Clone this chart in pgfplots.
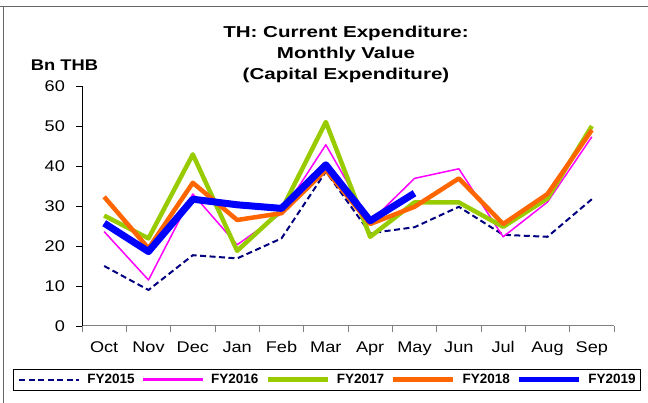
\documentclass[border=0pt]{standalone}
\usepackage{fontspec}
\setmainfont{Liberation Sans}
\usepackage{pgfplots}
\usepackage{pgfplotstable}
\pgfplotsset{compat=1.18}

\definecolor{fyA}{RGB}{0,0,128}
\definecolor{fyB}{RGB}{255,0,255}
\definecolor{fyC}{RGB}{153,204,0}
\definecolor{fyD}{RGB}{255,102,0}
\definecolor{fyE}{RGB}{0,0,255}

% monthly capital expenditure, Bn THB (Oct=0 ... Sep=11)
\pgfplotstableread{
m   f15   f16   f17   f18   f19
0   15.0  23.6  27.6  32.3  25.7
1   9.0   11.5  21.9  19.4  18.6
2   17.7  33.0  42.9  35.8  31.7
3   16.9  20.3  18.8  26.5  30.3
4   21.9  28.2  29.0  28.2  29.4
5   38.6  45.3  51.0  39.0  40.3
6   23.2  26.0  22.3  25.5  26.3
7   24.7  36.9  30.9  29.8  33.2
8   29.8  39.3  30.9  36.9  nan
9   22.8  22.3  24.8  25.5  nan
10  22.3  31.0  31.9  33.0  nan
11  31.7  47.3  50.0  49.0  nan
}\capex

\begin{document}
\begin{tikzpicture}[x=1pt,y=1pt]
\path[use as bounding box] (0,0) rectangle (648,403);
\draw[gray!80!black, line width=1pt] (0,396) -- (648,396);
\draw[gray!80!black, line width=0.8pt] (3,396) -- (3,0);

\begin{axis}[
    at={(82pt,77pt)}, anchor=south west,
    scale only axis,
    width=532pt, height=240pt,
    xmin=-0.5, xmax=11.5,
    ymin=0, ymax=60,
    axis lines*=left,
    x axis line style={gray, line width=1pt},
    y axis line style={black, line width=0.8pt},
    xtick={-0.5,0.5,...,11.5},
    xticklabels={},
    extra x ticks={0,1,...,11},
    extra x tick labels={Oct,Nov,Dec,Jan,Feb,Mar,Apr,May,Jun,Jul,Aug,Sep},
    extra x tick style={major tick length=0pt},
    ytick={0,10,...,60},
    tick align=outside,
    major tick length=6pt,
    x tick style={gray, line width=0.8pt},
    y tick style={black, line width=0.8pt},
    tick label style={font=\fontsize{15.5}{18}\selectfont, xscale=1.17},
    /pgf/number format/assume math mode=true,
    xticklabel style={yshift=-12pt},
    yticklabel style={xshift=-6pt},
    clip=false,
    unbounded coords=jump,
    every axis plot/.append style={line join=round},
    legend columns=5,
    legend style={
        at={(0.4605,-0.223)}, anchor=center,
        draw=black, line width=0.8pt,
        font=\bfseries\fontsize{13.5}{15}\selectfont,
        nodes={inner sep=0pt},
        inner xsep=5pt, inner ysep=5pt,
        column sep=7pt,
    },
]
\addplot[fyA, line width=2pt, dash pattern=on 6pt off 3.5pt,
    legend image code/.code={\draw[draw=fyA, line width=2pt, dash pattern=on 6pt off 3.5pt] (0pt,0pt) -- (60pt,0pt);}]
    table[x=m, y=f15] {\capex};
\addlegendentry{FY2015}
\addplot[fyB, line width=1.5pt,
    legend image code/.code={\draw[draw=fyB, line width=2.5pt] (0pt,0pt) -- (60pt,0pt);}]
    table[x=m, y=f16] {\capex};
\addlegendentry{FY2016}
\addplot[fyC, line width=4.5pt,
    legend image code/.code={\draw[draw=fyC, line width=4.5pt] (0pt,0pt) -- (60pt,0pt);}]
    table[x=m, y=f17] {\capex};
\addlegendentry{FY2017}
\addplot[fyD, line width=4.5pt,
    legend image code/.code={\draw[draw=fyD, line width=4.5pt] (0pt,0pt) -- (60pt,0pt);}]
    table[x=m, y=f18] {\capex};
\addlegendentry{FY2018}
\addplot[fyE, line width=7pt,
    legend image code/.code={\draw[draw=fyE, line width=4.5pt] (0pt,0pt) -- (60pt,0pt);}]
    table[x=m, y=f19] {\capex};
\addlegendentry{FY2019}
\end{axis}

\node[align=center, font=\bfseries\fontsize{15.8}{21}\selectfont, xscale=1.3]
    at (346,348.5) {TH: Current Expenditure:\\Monthly Value\\(Capital Expenditure)};
\node[font=\bfseries\fontsize{15.5}{18}\selectfont, xscale=1.18] at (64.5,337.5) {Bn THB};
\end{tikzpicture}
\end{document}
